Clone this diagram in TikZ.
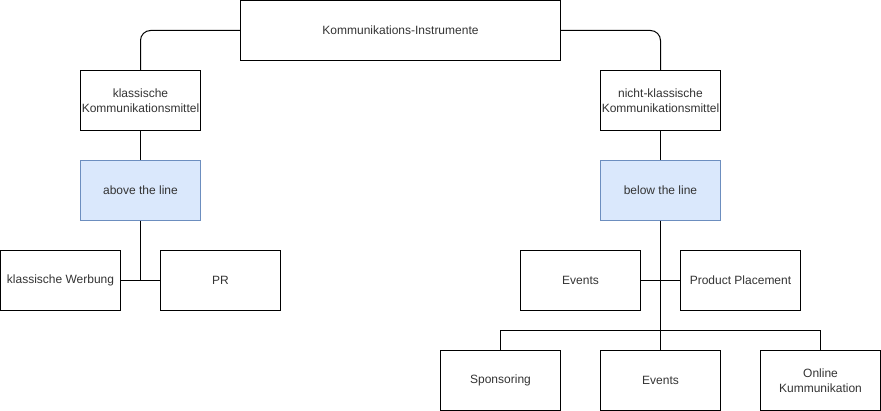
\documentclass[tikz,border=0pt]{standalone}
\usepackage{fontspec}
\setmainfont{Liberation Sans}
\usepackage{xcolor}
\definecolor{textgray}{HTML}{333333}
\definecolor{bluefill}{HTML}{DAE8FC}
\definecolor{blueline}{HTML}{6C8EBF}

\tikzset{
  box/.style={draw=black,line width=1pt,minimum width=120,minimum height=60,
    inner sep=0pt,align=center,text=textgray,font=\fontsize{12}{15}\selectfont},
  bluebox/.style={box,fill=bluefill,draw=blueline},
  conn/.style={line width=1pt}
}

\begin{document}
\begin{tikzpicture}[x=1pt,y=-1pt]
        \useasboundingbox (-0.5,-0.5) rectangle (880.5,410.5);

        \node[box,minimum width=320] (top) at (400,30) {Kommunikations-Instrumente};

        \node[box] (klass) at (140,100) {klassische\\Kommunikationsmittel};
        \node[box] (nklass) at (660,100) {nicht-klassische\\Kommunikationsmittel};

        \node[bluebox] (atl) at (140,190) {above the line};
        \node[bluebox] (btl) at (660,190) {below the line};

        \node[box] (werbung) at (60,280) {klassische Werbung};
        \node[box] (pr) at (220,280) {PR};

        \node[box] (events1) at (580,280) {Events};
        \node[box] (placement) at (740,280) {Product Placement};

        \node[box] (sponsoring) at (500,380) {Sponsoring};
        \node[box] (events2) at (660,380) {Events};
        \node[box] (online) at (820,380) {Online\\Kummunikation};

        \coordinate (split) at (660,330);

        % obere Ebene
        \draw[conn,rounded corners=10pt] (top.west) -| (klass.north);
        \draw[conn,rounded corners=10pt] (top.east) -| (nklass.north);
        \draw[conn] (klass) -- (atl);
        \draw[conn] (nklass) -- (btl);

        % above the line
        \draw[conn] (atl.south) |- (werbung.east);
        \draw[conn] (atl.south) |- (pr.west);

        % below the line
        \draw[conn] (btl.south) |- (events1.east);
        \draw[conn] (btl.south) |- (placement.west);
        \draw[conn] (btl.south) -- (events2.north);
        \draw[conn] (sponsoring.north) |- (split) -| (online.north);
    \end{tikzpicture}
\end{document}
